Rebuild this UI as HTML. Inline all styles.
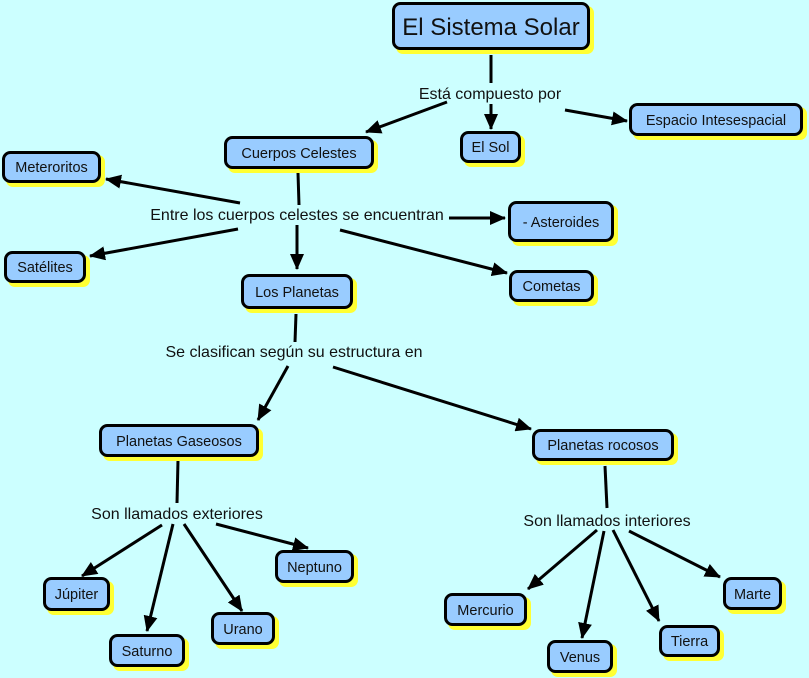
<!DOCTYPE html>
<html><head><meta charset="utf-8"><style>
html,body{margin:0;padding:0;background:#ccffff;}
svg{display:block}
text{font-family:"Liberation Sans",sans-serif;fill:#111;}
</style></head><body>
<svg width="809" height="678" viewBox="0 0 809 678" xmlns="http://www.w3.org/2000/svg">
<defs>
<marker id="b" markerWidth="16" markerHeight="14" refX="15" refY="7" orient="auto" markerUnits="userSpaceOnUse" viewBox="0 0 16 14">
<path d="M0,0 L16,7 L0,14 z" fill="#000"/>
</marker>
</defs>
<rect width="809" height="678" fill="#ccffff"/>
<g stroke="#000" stroke-width="3" fill="none">
<line x1="491" y1="55" x2="491" y2="83"/>
<line x1="491" y1="104" x2="491" y2="129" marker-end="url(#b)"/>
<line x1="447" y1="102" x2="366" y2="132" marker-end="url(#b)"/>
<line x1="565" y1="110" x2="627" y2="121" marker-end="url(#b)"/>
<line x1="298" y1="173" x2="299" y2="205"/>
<line x1="297" y1="225" x2="297" y2="269" marker-end="url(#b)"/>
<line x1="240" y1="203" x2="106" y2="179" marker-end="url(#b)"/>
<line x1="238" y1="229" x2="90" y2="256" marker-end="url(#b)"/>
<line x1="449" y1="218" x2="505" y2="218" marker-end="url(#b)"/>
<line x1="340" y1="230" x2="507" y2="273" marker-end="url(#b)"/>
<line x1="296" y1="314" x2="295" y2="342"/>
<line x1="288" y1="366" x2="258" y2="420" marker-end="url(#b)"/>
<line x1="333" y1="367" x2="531" y2="429" marker-end="url(#b)"/>
<line x1="178" y1="460" x2="177" y2="503"/>
<line x1="162" y1="525" x2="82" y2="576" marker-end="url(#b)"/>
<line x1="173" y1="524" x2="147" y2="631" marker-end="url(#b)"/>
<line x1="184" y1="524" x2="242" y2="611" marker-end="url(#b)"/>
<line x1="216" y1="524" x2="308" y2="548" marker-end="url(#b)"/>
<line x1="605" y1="466" x2="607" y2="508"/>
<line x1="597" y1="530" x2="528" y2="589" marker-end="url(#b)"/>
<line x1="604" y1="531" x2="582" y2="638" marker-end="url(#b)"/>
<line x1="613" y1="530" x2="659" y2="621" marker-end="url(#b)"/>
<line x1="629" y1="531" x2="720" y2="577" marker-end="url(#b)"/>
</g>
<g font-size="16" text-anchor="middle">
<text x="490" y="99">Está compuesto por</text>
<text x="297" y="220">Entre los cuerpos celestes se encuentran</text>
<text x="294" y="357">Se clasifican según su estructura en</text>
<text x="177" y="519">Son llamados exteriores</text>
<text x="607" y="526">Son llamados interiores</text>
</g>
<g fill="#ffff33">
<rect x="396" y="6" width="198" height="48" rx="7"/>
<rect x="228" y="140" width="150" height="33" rx="7"/>
<rect x="464" y="135" width="61" height="32" rx="7"/>
<rect x="633" y="107" width="174" height="33" rx="7"/>
<rect x="6" y="155" width="99" height="32" rx="7"/>
<rect x="8" y="255" width="82" height="32" rx="7"/>
<rect x="512" y="205" width="106" height="41" rx="7"/>
<rect x="513" y="274" width="85" height="32" rx="7"/>
<rect x="245" y="278" width="112" height="35" rx="7"/>
<rect x="103" y="428" width="160" height="33" rx="7"/>
<rect x="536" y="433" width="142" height="32" rx="7"/>
<rect x="47" y="581" width="67" height="34" rx="7"/>
<rect x="113" y="638" width="76" height="33" rx="7"/>
<rect x="215" y="616" width="64" height="33" rx="7"/>
<rect x="279" y="554" width="79" height="33" rx="7"/>
<rect x="448" y="597" width="83" height="33" rx="7"/>
<rect x="551" y="644" width="66" height="33" rx="7"/>
<rect x="663" y="629" width="61" height="32" rx="7"/>
<rect x="727" y="581" width="59" height="33" rx="7"/>
</g>
<g fill="#99ccff" stroke="#000" stroke-width="3">
<rect x="393.5" y="3.5" width="195" height="45" rx="7"/>
<rect x="225.5" y="137.5" width="147" height="30" rx="7"/>
<rect x="461.5" y="132.5" width="58" height="29" rx="7"/>
<rect x="630.5" y="104.5" width="171" height="30" rx="7"/>
<rect x="3.5" y="152.5" width="96" height="29" rx="7"/>
<rect x="5.5" y="252.5" width="79" height="29" rx="7"/>
<rect x="509.5" y="202.5" width="103" height="38" rx="7"/>
<rect x="510.5" y="271.5" width="82" height="29" rx="7"/>
<rect x="242.5" y="275.5" width="109" height="32" rx="7"/>
<rect x="100.5" y="425.5" width="157" height="30" rx="7"/>
<rect x="533.5" y="430.5" width="139" height="29" rx="7"/>
<rect x="44.5" y="578.5" width="64" height="31" rx="7"/>
<rect x="110.5" y="635.5" width="73" height="30" rx="7"/>
<rect x="212.5" y="613.5" width="61" height="30" rx="7"/>
<rect x="276.5" y="551.5" width="76" height="30" rx="7"/>
<rect x="445.5" y="594.5" width="80" height="30" rx="7"/>
<rect x="548.5" y="641.5" width="63" height="30" rx="7"/>
<rect x="660.5" y="626.5" width="58" height="29" rx="7"/>
<rect x="724.5" y="578.5" width="56" height="30" rx="7"/>
</g>
<g font-size="14.5" text-anchor="middle">
<text x="491" y="35" font-size="24">El Sistema Solar</text>
<text x="299" y="158">Cuerpos Celestes</text>
<text x="490.5" y="152">El Sol</text>
<text x="716" y="125">Espacio Intesespacial</text>
<text x="51.5" y="172">Meteroritos</text>
<text x="45" y="272">Satélites</text>
<text x="561" y="227">- Asteroides</text>
<text x="551.5" y="291">Cometas</text>
<text x="297" y="297">Los Planetas</text>
<text x="179" y="446">Planetas Gaseosos</text>
<text x="603" y="450">Planetas rocosos</text>
<text x="76.5" y="599">Júpiter</text>
<text x="147" y="656">Saturno</text>
<text x="243" y="634">Urano</text>
<text x="314.5" y="572">Neptuno</text>
<text x="485.5" y="615">Mercurio</text>
<text x="580" y="662">Venus</text>
<text x="689.5" y="646">Tierra</text>
<text x="752.5" y="599">Marte</text>
</g>
</svg>
</body></html>
